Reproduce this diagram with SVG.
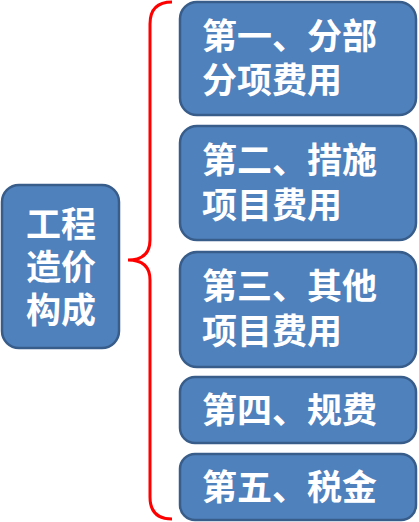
<svg xmlns="http://www.w3.org/2000/svg" width="419" height="522" viewBox="0 0 419 522">
<style>
.box{fill:#4F81BD;stroke:#385D8A;stroke-width:2.5}
.t{font-family:"Noto Sans CJK SC","Noto Sans",sans-serif;font-weight:bold;font-size:35px;fill:#FFFFFF}
.brace{fill:none;stroke:#FF0000;stroke-width:3}
</style>
<rect x="0" y="0" width="419" height="522" fill="#FFFFFF"/>
<g id="connectors">
<path class="brace" d="M172,2 Q150,2 150,24 L150,240 Q150,260 128,260 Q150,260 150,280 L150,497 Q150,519 172,519"/>
</g>
<g id="root">
<rect class="box" x="2" y="185" width="117" height="163" rx="17"/>
<text class="t" x="61" y="237" text-anchor="middle">工程</text>
<text class="t" x="61" y="280" text-anchor="middle">造价</text>
<text class="t" x="61" y="323" text-anchor="middle">构成</text>
</g>
<g id="n1">
<rect class="box" x="180" y="2" width="236" height="113" rx="17"/>
<text class="t" x="202" y="49">第一、分部</text>
<text class="t" x="202" y="93">分项费用</text>
</g>
<g id="n2">
<rect class="box" x="180" y="126" width="236" height="114" rx="17"/>
<text class="t" x="202" y="173">第二、措施</text>
<text class="t" x="202" y="218">项目费用</text>
</g>
<g id="n3">
<rect class="box" x="180" y="252" width="236" height="115" rx="17"/>
<text class="t" x="202" y="299">第三、其他</text>
<text class="t" x="202" y="344">项目费用</text>
</g>
<g id="n4">
<rect class="box" x="180" y="377" width="236" height="66" rx="15"/>
<text class="t" x="202" y="423">第四、规费</text>
</g>
<g id="n5">
<rect class="box" x="180" y="454" width="236" height="66" rx="15"/>
<text class="t" x="202" y="500">第五、税金</text>
</g>
</svg>
